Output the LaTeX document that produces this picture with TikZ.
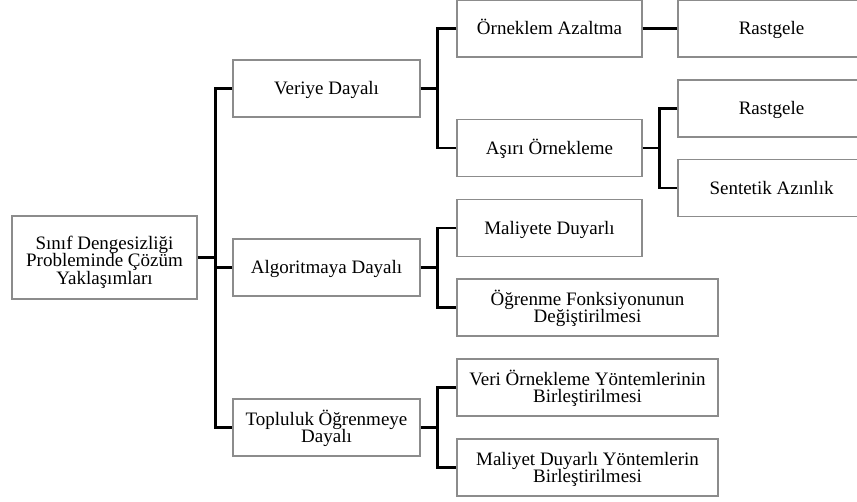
\documentclass[tikz,border=0pt]{standalone}
\usepackage{fontspec}
\setmainfont{Liberation Serif}
\definecolor{boxgray}{RGB}{140,140,140}
\newcommand\mlines[1]{\vbox{\lineskiplimit=-100pt\lineskip=0pt\baselineskip=17.5pt\halign{\hfil##\hfil\cr#1\crcr}}}
\tikzset{
  box/.style={draw=boxgray, line width=1.4pt, fill=white, inner sep=0pt,
    font=\fontsize{19}{17.5}\selectfont},
  one/.style={text height=12.6pt, text depth=0pt},
  two/.style={text height=30.1pt, text depth=0pt},
  three/.style={text height=53pt, text depth=0pt},
  b0/.style={box, minimum width=185pt, minimum height=83pt},
  b1/.style={box, minimum width=187pt, minimum height=57pt},
  b2/.style={box, minimum width=185pt, minimum height=57pt},
  b2w/.style={box, minimum width=261pt, minimum height=57pt},
  conn/.style={draw=black, line width=2.8pt, line join=miter}
}
\begin{document}
\begin{tikzpicture}[x=1pt,y=-1pt]
\useasboundingbox (0,0) rectangle (857,501);
\clip (0,0) rectangle (857,501);
% root
\node[b0,three] (root) at (104.5,257.5) {\mlines{Sınıf Dengesizliği\cr Probleminde Çözüm\cr Yaklaşımları}};
% level 1
\node[b1,one] (ver) at (326.5,88.5) {Veriye Dayalı};
\node[b1,one] (alg) at (326.5,267.5) {Algoritmaya Dayalı};
\node[b1,two] (top) at (326.5,427.5) {\mlines{Topluluk Öğrenmeye\cr Dayalı}};
% level 2
\node[b2,one] (oa) at (549.5,28.5) {Örneklem Azaltma};
\node[b2,one] (ao) at (549.5,148) {Aşırı Örnekleme};
\node[b2,one] (md) at (549.5,228) {Maliyete Duyarlı};
\node[b2w,two] (of) at (587.5,307.5) {\mlines{Öğrenme Fonksiyonunun\cr Değiştirilmesi}};
\node[b2w,two] (vo) at (587.5,387.5) {\mlines{Veri Örnekleme Yöntemlerinin\cr Birleştirilmesi}};
\node[b2w,two] (my) at (587.5,467.5) {\mlines{Maliyet Duyarlı Yöntemlerin\cr Birleştirilmesi}};
% level 3
\node[b1,one] (r1) at (771.5,28.5) {Rastgele};
\node[b1,one] (r2) at (771.5,108.5) {Rastgele};
\node[b1,one] (sa) at (771.5,188) {Sentetik Azınlık};
% connectors
\draw[conn] (root.east) -- ++(19,0);
\draw[conn] (ver.west) -- ++(-17,0) |- (top.west);
\draw[conn] (alg.west) -- ++(-17,0);
\draw[conn] (ver.east) -- ++(18,0);
\draw[conn] (oa.west) -- ++(-19,0) |- (ao.west);
\draw[conn] (alg.east) -- ++(18,0);
\draw[conn] (md.west) -- ++(-19,0) |- (of.west);
\draw[conn] (top.east) -- ++(18,0);
\draw[conn] (vo.west) -- ++(-19,0) |- (my.west);
\draw[conn] (oa.east) -- (r1.west);
\draw[conn] (ao.east) -- ++(18,0);
\draw[conn] (r2.west) -- ++(-18,0) |- (sa.west);
\end{tikzpicture}
\end{document}
